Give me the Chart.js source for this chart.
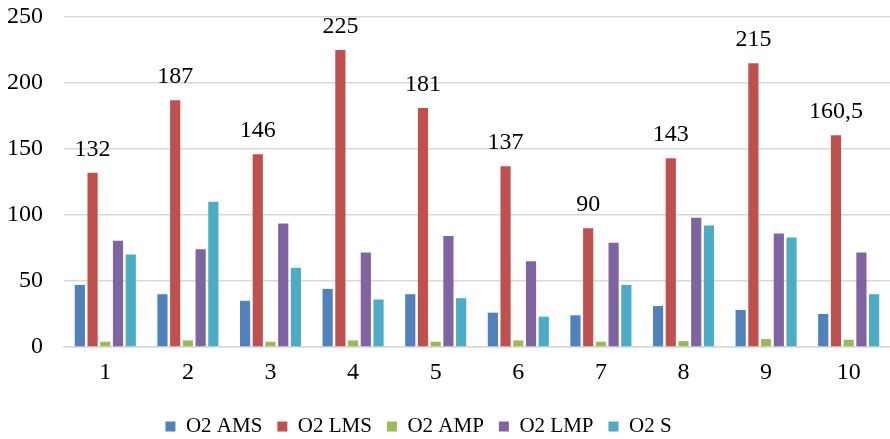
<!DOCTYPE html>
<html>
<head>
<meta charset="utf-8">
<script src="https://cdn.jsdelivr.net/npm/chart.js@4/dist/chart.umd.min.js"></script>
<style>
  html, body { margin: 0; padding: 0; background: #fff; }
  #wrap { width: 890px; height: 439px; position: relative; }
</style>
</head>
<body>
<div id="wrap"><canvas id="c"></canvas></div>
<script>
const categories = ['1', '2', '3', '4', '5', '6', '7', '8', '9', '10'];
const o2AMS = [47, 40, 35, 44, 40, 26, 24, 31, 28, 25];
const o2LMS = [132, 187, 146, 225, 181, 137, 90, 143, 215, 160.5];
const o2AMP = [4, 5, 4, 5, 4, 5, 4, 4.5, 6, 5.5];
const o2LMP = [80.5, 74, 93.5, 71.5, 84, 65, 79, 98, 86, 71.5];
const o2S = [70, 110, 60, 36, 37, 23, 47, 92, 83, 40];
const yTicks = [0, 50, 100, 150, 200, 250];

const FONT = '"Liberation Serif", "Times New Roman", serif';

// Value labels above the O2 LMS bars, decimal comma
const lmsLabels = {
  id: 'lmsLabels',
  afterDatasetsDraw(chart) {
    const ctx = chart.ctx;
    const meta = chart.getDatasetMeta(1);
    ctx.save();
    ctx.font = '24px ' + FONT;
    ctx.fillStyle = '#000';
    ctx.textAlign = 'center';
    ctx.textBaseline = 'alphabetic';
    meta.data.forEach((bar, i) => {
      const txt = String(o2LMS[i]).replace('.', ',');
      ctx.fillText(txt, bar.x, bar.y - 17);
    });
    ctx.restore();
  }
};

// Nudge the legend block slightly left of centre and lower in the frame
const legendOffset = {
  id: 'legendOffset',
  afterLayout(chart) {
    const lg = chart.legend;
    if (!lg) return;
    const dx = -30, dy = 8;
    lg.left += dx; lg.right += dx;
    lg.top += dy; lg.bottom += dy;
  }
};

new Chart(document.getElementById('c'), {
  type: 'bar',
  data: {
    labels: categories,
    datasets: [
      { label: 'O2 AMS', data: o2AMS, backgroundColor: '#4F81BD' },
      { label: 'O2 LMS', data: o2LMS, backgroundColor: '#C0504D' },
      { label: 'O2 AMP', data: o2AMP, backgroundColor: '#9BBB59' },
      { label: 'O2 LMP', data: o2LMP, backgroundColor: '#8064A2' },
      { label: 'O2 S', data: o2S, backgroundColor: '#4BACC6' }
    ]
  },
  options: {
    responsive: true,
    maintainAspectRatio: false,
    animation: false,
    devicePixelRatio: 1,
    datasets: { bar: { barPercentage: 0.8, categoryPercentage: 0.77 } },
    layout: { padding: { top: 17, right: 0, left: 7, bottom: 0 } },
    plugins: {
      legend: {
        position: 'bottom',
        labels: {
          boxWidth: 10, boxHeight: 10, padding: 15,
          color: '#000',
          font: { family: FONT, size: 21 }
        }
      },
      tooltip: { enabled: false }
    },
    scales: {
      x: {
        grid: { display: false, drawTicks: false },
        border: { color: '#d9d9d9', width: 1.5 },
        ticks: { color: '#000', font: { family: FONT, size: 24 }, padding: 11 },
        afterFit(axis) {
          axis.height = 46;
          axis.paddingLeft = 0; axis.paddingRight = 0;
        }
      },
      y: {
        min: 0, max: 250,
        afterBuildTicks(axis) { axis.ticks = yTicks.map(v => ({ value: v })); },
        grid: { color: '#d9d9d9', lineWidth: 1.5, drawTicks: false },
        border: { display: false },
        ticks: { color: '#000', font: { family: FONT, size: 24 }, padding: 21 },
        afterFit(axis) {
          axis.width = 57;
          axis.paddingTop = 0; axis.paddingBottom = 0;
        }
      }
    }
  },
  plugins: [lmsLabels, legendOffset]
});
</script>
</body>
</html>
